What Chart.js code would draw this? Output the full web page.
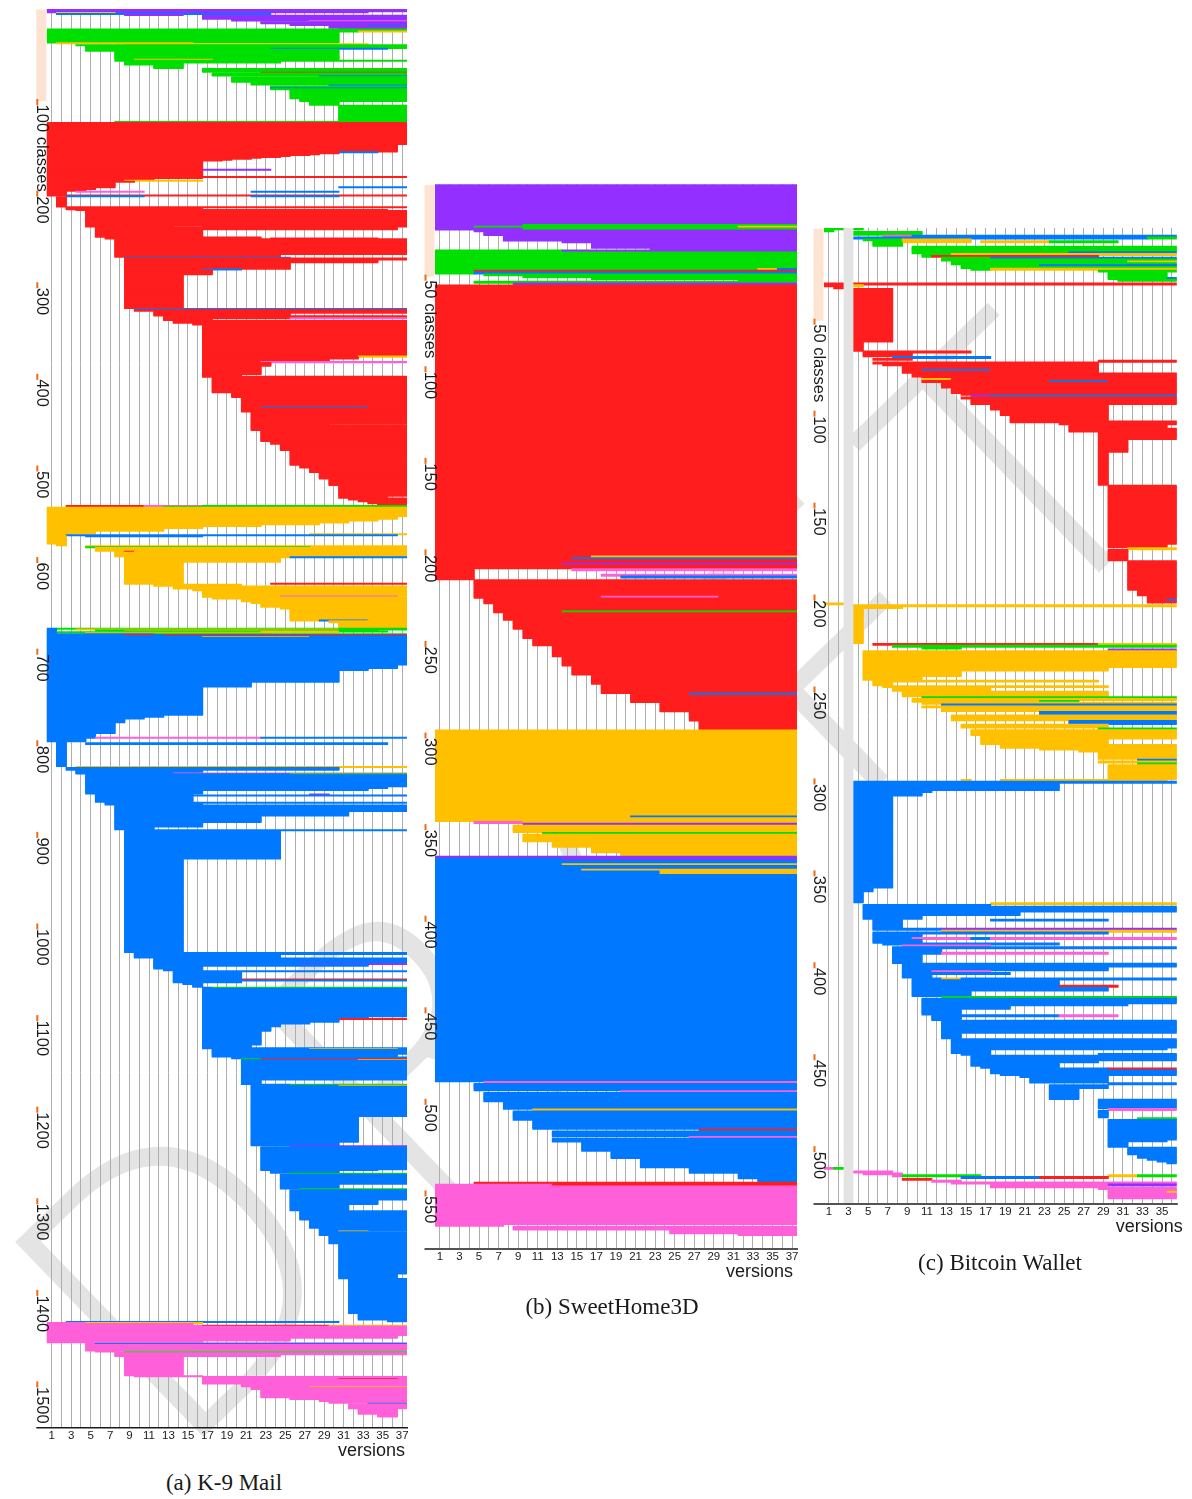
<!DOCTYPE html>
<html>
<head>
<meta charset="utf-8">
<title>Class evolution across versions</title>
<script src="https://cdn.jsdelivr.net/npm/chart.js@4.4.1/dist/chart.umd.min.js"></script>
<style>
  html, body { margin: 0; padding: 0; background: #fff; }
  #page { position: relative; width: 1192px; height: 1499px; overflow: hidden; background: #fff; }
  .wm { position: absolute; left: 600px; top: 850px; transform: translate(-50%, -50%) rotate(-44deg);
        font-family: "Open Sans", "DejaVu Sans", sans-serif; font-weight: 300; font-size: 380px; line-height: 1;
        letter-spacing: 70px; color: #e4e4e4; white-space: nowrap; }
  canvas { position: absolute; }
  .cap { position: absolute; transform: translateX(-50%); white-space: nowrap; line-height: 26px;
         font-family: "Liberation Serif", "Times New Roman", serif; font-size: 23px; color: #1a1a1a; }
</style>
</head>
<body>
<div id="page">
  <div class="wm">DRAFT</div>
  <canvas id="k9" width="404" height="1465" style="left:16px;top:0px"></canvas>
  <canvas id="home" width="400" height="1115" style="left:415px;top:170px"></canvas>
  <canvas id="wallet" width="387" height="1025" style="left:805px;top:215px"></canvas>
  <div class="cap" style="left:224px;top:1470px">(a) K-9 Mail</div>
  <div class="cap" style="left:612px;top:1294px">(b) SweetHome3D</div>
  <div class="cap" style="left:1000px;top:1250px">(c) Bitcoin Wallet</div>
</div>
<script>
// Package colours (one colour per top-level package).
const pkgColors = { P: '#9330ff', G: '#00e000', R: '#ff1d1d', O: '#ffc000', B: '#0078ff', K: '#ff60da' };

// Each run: [number of classes, first version, last version, package, (more segments for classes that moved)...]
// Classes are listed top to bottom in the order they are stacked.
const k9Runs = [
  [3,1,37,'P'],[1,1,33,'P'],[1,2,7,'O'],[1,2,23,'B'],[1,9,14,'P'],[4,17,37,'P'],[2,20,37,'P'],[1,28,37,'K'],
  [2,23,37,'P'],[2,26,37,'P'],[1,34,37,'B'],[2,30,37,'P'],[1,31,37,'P'],
  [2,1,37,'G'],[1,1,32,'G',33,37,'O'],[12,1,30,'G'],[1,2,15,'O'],[1,9,33,'O'],[1,4,37,'G'],[3,5,37,'G'],
  [1,5,23,'G',24,35,'B'],[2,5,30,'G'],[9,8,30,'G'],[1,10,17,'O'],[1,8,37,'G'],[2,9,24,'G'],[2,9,14,'G'],[4,12,14,'G'],
  [4,17,37,'G'],[1,23,37,'R'],[3,18,37,'G'],[1,29,37,'B'],[6,20,37,'G'],[3,22,37,'G'],[1,30,37,'B'],[2,24,37,'G'],
  [1,24,37,'B'],[1,24,37,'G'],[10,26,37,'G'],[3,27,37,'G'],[4,28,30,'G'],[18,31,37,'G'],[1,8,30,'G'],
  [24,1,37,'R'],[8,1,36,'R'],[1,1,30,'R',31,34,'B'],[1,1,30,'R'],[1,1,28,'R'],[1,1,27,'R'],[1,1,25,'R'],[1,1,24,'R'],
  [1,1,22,'R'],[1,1,21,'R'],[1,1,19,'R'],[1,1,18,'R'],[1,1,16,'R'],[8,1,16,'R'],[1,1,16,'R',17,23,'P'],[7,1,16,'R'],
  [1,1,37,'R'],[1,1,16,'R'],[2,1,11,'R'],[1,1,8,'R',9,16,'O'],[1,1,9,'R'],[5,1,7,'R'],[1,1,7,'R',31,37,'B'],
  [2,1,5,'R'],[2,1,4,'R'],[1,1,2,'R',4,10,'K',22,30,'B'],[3,1,2,'R'],
  [1,1,37,'R'],[1,3,10,'B',22,30,'B'],[11,2,2,'R'],[1,3,37,'R'],[2,3,16,'R'],[1,4,35,'R'],[15,5,37,'R'],[2,5,37,'R'],
  [1,5,13,'R',17,37,'R'],[3,6,36,'R'],[8,6,16,'R'],[1,7,22,'R'],[1,7,22,'R',24,34,'R'],[1,8,37,'R'],[16,8,37,'R'],
  [3,8,24,'R'],[1,9,25,'B'],
  [2,9,37,'R'],[3,9,34,'R'],[7,9,25,'R'],[1,9,16,'R',17,20,'B'],[5,9,17,'R'],[37,9,14,'R'],
  [1,10,37,'B'],[2,10,37,'R'],[2,12,37,'R'],[3,12,25,'R'],[2,13,37,'R'],[1,13,25,'R',26,37,'K'],[2,13,17,'R'],
  [3,14,37,'R'],[2,16,37,'R'],
  [34,17,37,'R'],[1,17,32,'R',33,37,'O'],[2,17,32,'R'],[3,17,29,'R'],[1,17,22,'R',23,37,'K'],[4,17,23,'R'],
  [9,17,22,'R'],[2,17,20,'R'],
  [1,17,37,'R'],[9,18,37,'R'],[1,18,25,'R'],[7,18,37,'R'],[5,20,37,'R'],
  [10,21,37,'R'],[1,21,22,'R',23,33,'B',34,37,'R'],[5,21,37,'R'],[13,22,37,'R'],[1,22,29,'R'],[6,22,37,'R'],
  [11,23,37,'R'],[1,23,27,'R'],[3,24,37,'R'],[7,25,37,'R'],[14,26,37,'R'],[1,26,29,'R'],[1,26,37,'R'],
  [3,27,37,'R'],[5,28,37,'R'],[7,29,37,'R'],[7,30,37,'R'],[12,31,37,'R'],[2,31,35,'R'],[2,32,37,'R'],
  [2,33,37,'R'],[2,34,37,'R'],[2,35,37,'R'],
  [1,3,10,'R',11,16,'K',17,37,'G'],[1,13,37,'G'],
  [10,1,37,'O'],[3,1,36,'O'],[2,1,34,'O'],[2,1,31,'O'],[2,1,28,'O'],[2,1,22,'O'],[2,1,16,'O'],[3,1,12,'O'],
  [3,1,5,'O'],[1,1,2,'O',28,37,'O'],[1,1,2,'O',3,36,'B'],[1,1,2,'O',5,16,'B'],[8,1,2,'O'],
  [2,2,2,'O'],[1,5,37,'O'],[1,5,27,'G'],[1,6,37,'O'],[3,6,37,'O'],[1,8,8,'O',9,9,'R',10,37,'O'],[4,8,37,'O'],
  [1,8,37,'O'],[1,9,25,'O',26,37,'B'],[5,9,24,'O'],[23,9,14,'O'],[1,9,14,'O',24,37,'R'],
  [2,12,20,'O'],[3,14,37,'O'],[2,16,37,'O'],[6,17,37,'O'],[1,17,24,'O',25,36,'K'],[2,18,37,'O'],[3,21,37,'O'],
  [2,22,37,'O'],[4,23,37,'O'],[2,25,37,'O'],[12,26,37,'O'],[1,26,28,'O',29,33,'B',34,37,'O'],[2,30,37,'O'],
  [3,31,37,'O'],[3,31,37,'O'],
  [1,1,1,'B',2,37,'G'],[1,1,1,'B',4,30,'O',31,37,'G'],[1,1,1,'B',6,34,'G'],[1,1,1,'B',9,30,'O',31,35,'G'],
  [1,1,1,'B',2,22,'G',23,30,'O'],[1,1,1,'B',5,23,'O'],[1,1,11,'B',12,37,'G'],[1,1,8,'B',9,11,'R',12,37,'B'],
  [1,1,12,'B',13,37,'R'],[1,1,16,'B',17,27,'O',28,37,'B'],[1,1,37,'B'],
  [29,1,37,'B'],[4,1,36,'B'],[2,1,33,'B'],[13,1,30,'B'],[5,1,21,'B'],[31,1,16,'B'],[2,1,12,'B'],[2,1,10,'B'],
  [4,1,8,'B'],[12,1,7,'B'],[4,1,5,'B'],[1,1,5,'B',6,22,'K',23,37,'B'],[4,1,4,'B'],
  [1,2,2,'B'],[2,2,2,'B',5,35,'B'],[24,2,2,'B'],
  [1,4,37,'O'],[3,3,30,'B'],[3,4,16,'B'],[1,4,13,'B',14,37,'K'],
  [1,5,25,'B',26,37,'G'],[13,5,37,'B'],[2,5,35,'B'],[2,5,33,'B'],[4,5,16,'B'],
  [1,6,15,'B',28,29,'P'],[1,6,37,'B'],[7,6,15,'B'],[1,7,37,'B'],[2,7,16,'B'],
  [7,8,37,'B'],[5,8,31,'B'],[7,8,22,'B'],[5,8,16,'B'],[3,8,11,'B'],
  [1,10,37,'B'],[31,9,24,'B'],[102,9,14,'B'],
  [2,10,37,'B'],[4,10,24,'B'],[6,12,37,'B'],[1,12,26,'B',27,37,'P'],[2,12,33,'B'],[3,12,16,'B'],[2,13,16,'B'],
  [1,14,37,'B'],[8,14,20,'B'],[1,14,20,'B',21,37,'R'],[1,14,37,'B'],[2,14,20,'B'],[2,15,16,'B'],[3,16,16,'B'],
  [1,17,17,'B',18,37,'G'],
  [31,17,37,'B'],[2,17,33,'B'],[1,17,30,'B',31,37,'R'],[3,17,30,'B'],[2,17,27,'B'],[3,17,24,'B'],[5,17,23,'B'],
  [15,17,22,'B'],[3,17,21,'B'],[1,17,37,'B'],[1,18,27,'B',28,36,'O'],
  [5,18,37,'B'],[3,18,36,'B'],[2,20,37,'B'],[1,21,22,'G',23,37,'R'],[1,21,32,'B',33,37,'O'],[21,21,37,'B'],[5,21,22,'B'],
  [1,22,25,'B',26,37,'G'],[1,22,30,'B',31,37,'O'],[33,22,37,'B'],[28,22,32,'B'],[4,22,30,'B'],
  [1,26,37,'P'],[25,23,37,'B'],[1,23,34,'B'],[3,24,30,'B'],
  [1,26,37,'G'],[11,25,37,'B'],[5,25,30,'B'],[1,27,37,'G'],
  [11,26,37,'B'],[5,26,34,'B'],[7,26,31,'B'],
  [10,27,37,'B'],[9,28,37,'B'],[3,29,37,'B'],[1,29,30,'B',31,33,'O'],[4,29,37,'B'],[9,30,37,'B'],
  [33,31,37,'B'],[5,31,36,'B'],[38,32,37,'B'],[7,33,37,'B'],[2,36,37,'B'],
  [1,3,30,'B'],[1,1,4,'K',5,16,'O'],[2,1,15,'K'],[1,1,16,'K',17,29,'R',30,37,'O'],[10,1,37,'K'],[3,1,36,'K'],
  [3,1,25,'K'],[2,1,16,'K'],
  [1,5,37,'K'],[1,5,5,'K',6,37,'B'],[7,5,37,'K'],[1,6,7,'K'],[1,8,8,'K',9,37,'G'],[2,8,37,'K'],[1,8,18,'K'],[1,8,24,'K'],
  [21,9,14,'K'],[1,10,16,'K'],
  [2,17,37,'K'],[1,17,30,'K',31,36,'R'],[5,17,37,'K'],[3,21,37,'K'],[1,22,27,'K',28,37,'O'],[2,22,37,'K'],
  [9,23,37,'K'],[2,26,37,'K'],[2,29,37,'K'],[2,30,37,'K'],[1,34,37,'B'],[5,32,37,'K'],[6,33,36,'K'],[3,35,36,'K']
];

const homeRuns = [
  [22,1,37,'P'],[1,1,9,'P',10,37,'G'],[1,1,4,'P',5,31,'G',32,37,'O'],[1,1,9,'P',10,37,'G'],
  [1,5,37,'P'],[2,6,37,'P'],[3,8,37,'P'],[1,14,37,'P'],[3,17,37,'P'],[1,23,37,'P'],
  [1,1,13,'G',14,37,'P'],[9,1,37,'G'],[1,1,33,'G',34,35,'O',36,37,'B'],[1,1,4,'G',5,37,'R'],[1,1,4,'G',5,37,'B'],
  [1,6,37,'G'],[1,10,37,'G'],[1,17,37,'G'],[1,32,37,'G'],[1,5,37,'G'],[1,9,37,'P'],
  [148,1,37,'R'],
  [1,1,16,'R',17,37,'O'],[1,1,14,'R',15,37,'B'],[2,1,37,'R'],[1,1,13,'R',14,37,'P'],[2,1,37,'R'],
  [1,1,4,'R',15,37,'K'],[2,1,4,'R'],[1,1,4,'R',18,37,'K'],[1,1,4,'R',20,37,'B'],[1,1,4,'R'],
  [9,5,37,'R'],[1,5,17,'R',18,29,'K',30,37,'R'],[3,6,37,'R'],[4,7,37,'R'],[1,7,13,'R',14,37,'G'],[4,8,37,'R'],
  [5,9,37,'R'],[5,10,37,'R'],[4,11,37,'R'],[6,13,37,'R'],[5,14,37,'R'],[5,15,37,'R'],[5,17,37,'R'],[5,18,37,'R'],
  [1,21,26,'R',27,37,'B'],[4,21,37,'R'],[5,24,37,'R'],[5,27,37,'R'],[5,28,37,'R'],
  [47,1,37,'O'],[1,1,20,'O',21,37,'B'],[2,1,37,'O'],[1,5,9,'K',10,37,'O'],[1,10,37,'P'],[4,9,37,'O'],[1,12,37,'G'],
  [4,10,37,'O'],[3,13,37,'O'],[3,17,37,'O'],[2,20,37,'O'],
  [1,1,37,'P'],[1,1,13,'B',14,37,'P'],[2,1,37,'B'],[1,1,13,'B',14,37,'O'],[2,1,37,'B'],[1,1,15,'B',16,37,'O'],
  [2,1,23,'B',24,37,'O'],[113,1,37,'B'],
  [1,6,37,'K'],[4,5,37,'B'],[1,20,37,'K'],[5,6,37,'B'],[4,8,37,'B'],[1,11,37,'O'],[5,9,37,'B'],[5,11,37,'B'],
  [1,28,37,'R'],[3,13,37,'B'],[1,27,37,'K'],[2,13,37,'B'],[5,16,37,'B'],[4,19,37,'B'],[5,22,37,'B'],[3,27,37,'B'],
  [3,32,37,'B'],[2,34,37,'B'],
  [1,5,37,'R'],[1,1,12,'K',13,37,'R'],[21,1,37,'K'],[1,1,7,'K'],[2,9,37,'K'],[2,25,37,'K'],[1,32,37,'K']
];

const walletRuns = [
  [1,1,4,'G'],[1,1,1,'G'],[2,4,10,'G'],[1,7,9,'K',10,36,'B'],[1,4,33,'B',34,36,'G'],[1,5,8,'G',9,15,'O'],
  [1,6,8,'G',9,15,'O',17,23,'O',24,30,'G'],[2,6,8,'G'],
  [3,10,36,'G'],[1,10,25,'G',26,36,'B'],[1,11,13,'G',14,36,'O'],[1,11,11,'G',12,28,'R'],
  [1,13,17,'G',18,36,'B'],[1,13,36,'G'],[1,14,31,'G',32,36,'O'],[1,14,36,'G'],[1,15,22,'G',23,36,'B'],[1,15,36,'G'],
  [1,16,17,'G',18,36,'O'],
  [1,29,36,'G'],[3,30,35,'G'],[1,30,35,'G',36,36,'B'],[1,31,36,'G'],[1],
  [1,1,36,'R'],[1,1,2,'R',4,4,'O'],[1,2,2,'R'],[29,4,7,'R'],[5,4,4,'R'],
  [1,5,15,'R'],[2,5,9,'R'],[1,8,17,'B'],[1,6,9,'R'],[1,29,36,'R'],[1,6,28,'R'],[1,7,28,'R'],[2,9,28,'R'],
  [1,9,10,'R',11,17,'B',18,28,'R'],[1,9,28,'R'],
  [2,10,36,'R'],[1,11,36,'R'],[1,11,13,'O',14,36,'R'],[1,11,23,'R',24,29,'B',30,36,'R'],
  [3,13,36,'R'],[3,14,36,'R'],[1,15,36,'R'],[1,16,17,'P',18,36,'B'],[1,15,36,'R'],[3,16,36,'R'],
  [3,18,29,'R'],[3,19,29,'R'],[3,20,29,'R'],[1,20,36,'R'],[1,25,36,'R'],[2,26,35,'R'],[2,26,36,'R'],
  [4,29,36,'R'],[7,29,31,'R'],[18,29,29,'R'],[32,30,36,'R'],[2,30,35,'R'],[1,32,36,'O'],[6,30,31,'R'],
  [16,32,36,'R'],[3,33,36,'R'],[2,34,36,'R'],[1,34,35,'R',36,36,'B'],[1,34,36,'R'],
  [1,1,2,'O'],[1,4,36,'O'],[1,4,8,'O'],[19,4,4,'O'],
  [1,6,28,'R',29,36,'O'],[1,8,36,'G'],[1,11,14,'G'],[1,30,36,'P'],
  [9,5,36,'O'],[2,5,29,'O'],[3,5,14,'O'],[2,5,10,'O'],[1,6,28,'O'],[2,6,7,'O'],[1,7,29,'O'],
  [2,8,17,'O'],[3,9,29,'O'],[1,11,36,'G'],
  [1,10,36,'O'],[1,10,22,'O',23,26,'G'],[1,11,36,'O'],[1,13,36,'B'],[1,11,36,'O'],
  [2,13,36,'O'],[2,23,36,'B'],[3,14,36,'O'],[2,26,36,'B'],[2,15,29,'O'],[1,29,36,'G'],
  [3,16,36,'O'],[2,17,36,'O'],[3,17,29,'O'],[2,19,36,'O'],[1,23,36,'O'],[1,27,36,'O'],[4,29,36,'O'],
  [1,33,36,'B'],[1,29,36,'O'],[1,33,36,'G'],[8,30,36,'O'],
  [1,15,15,'O',19,35,'O'],[1,4,36,'B'],
  [4,4,24,'B'],[1,4,11,'B'],[2,4,10,'B'],[50,4,7,'B'],[2,4,5,'B'],[6,4,4,'B'],
  [1,18,36,'O'],[1,5,17,'B'],[3,5,36,'B'],[2,5,20,'B'],[2,5,10,'B'],[1,6,8,'B',18,29,'B'],[4,6,8,'B'],
  [1,6,12,'B',13,36,'P'],[1,13,36,'O'],[1,6,29,'B'],[2,6,10,'B'],[1,6,9,'B',10,15,'K',16,17,'B',18,36,'K'],
  [2,6,10,'B'],[1,7,24,'B'],[1,9,17,'K'],
  [1,8,36,'B'],[2,8,12,'B'],[1,8,12,'B',13,29,'K'],[5,8,10,'B'],
  [2,9,36,'B'],[2,9,29,'B'],[1,9,11,'B',12,17,'K'],[1,9,19,'B'],[2,9,11,'B'],
  [1,10,12,'B',13,14,'O',15,36,'B'],[3,10,24,'B'],[1,10,24,'B',25,30,'R'],[2,10,29,'B'],[3,10,15,'B'],
  [1,13,36,'G'],[3,11,36,'B'],[1,11,31,'B'],[2,11,19,'B'],[3,11,14,'B'],[1,12,24,'B',25,30,'K'],[2,12,14,'B'],
  [7,13,36,'B'],[3,13,14,'B'],
  [5,14,36,'B'],[1,14,35,'B'],[2,14,17,'B'],[1,15,17,'B',29,36,'B'],
  [3,16,36,'B'],[1,16,28,'B'],[2,16,24,'B'],[1,17,24,'B'],
  [1,18,29,'B',30,36,'R'],[2,18,36,'B'],[1,19,36,'B'],[1,21,29,'B'],[3,22,29,'B'],
  [1,30,36,'B'],[2,24,29,'B'],[6,24,26,'B'],
  [5,29,36,'B'],[1,30,36,'K'],[4,29,29,'B'],
  [1,33,36,'G'],[11,30,36,'B'],[1,30,35,'B'],[3,30,31,'B'],
  [4,32,36,'B'],[2,33,36,'B'],[1,34,36,'B'],[1,35,36,'B'],[1,36,36,'B'],[2],
  [1,1,1,'K',2,2,'G'],[1],[1,4,7,'K'],[1,5,8,'K'],
  [1,8,8,'K',9,16,'G',30,32,'O',33,36,'G'],[1,15,22,'B',23,29,'R'],[1,9,11,'R'],[1,12,14,'K'],[1,14,36,'K'],
  [1,18,29,'K',30,36,'P'],[1,18,29,'K'],[1,29,36,'K'],[1,30,36,'K'],[1,30,35,'K',36,36,'O'],[3,30,36,'K']
];

// Axis annotations
const k9TickRows = [100,200,300,400,500,600,700,800,900,1000,1100,1200,1300,1400,1500];
const k9TickLabels = ['100 classes','200','300','400','500','600','700','800','900','1000','1100','1200','1300','1400','1500'];
const homeTickRows = [50,100,150,200,250,300,350,400,450,500,550];
const homeTickLabels = ['50 classes','100','150','200','250','300','350','400','450','500','550'];
const walletTickRows = [50,100,150,200,250,300,350,400,450,500];
const walletTickLabels = ['50 classes','100','150','200','250','300','350','400','450','500'];
const k9VersionLabels = [1,3,5,7,9,11,13,15,17,19,21,23,25,27,29,31,33,35,37];
const homeVersionLabels = [1,3,5,7,9,11,13,15,17,19,21,23,25,27,29,31,33,35,37];
const walletVersionLabels = [1,3,5,7,9,11,13,15,17,19,21,23,25,27,29,31,33,35];
const walletMissingVersions = [3];

// Expand the runs into one floating bar per class segment.
function toBars(runs) {
  const bars = [];
  let row = 0;
  for (const run of runs) {
    for (let r = 0; r < run[0]; r++) {
      for (let k = 1; k + 2 < run.length; k += 3) {
        bars.push({ y: row, x: [run[k] - 0.5, run[k + 1] + 0.5], pkg: run[k + 2] });
      }
      row++;
    }
  }
  return bars;
}

const panelDecor = {
  id: 'panelDecor',
  afterDatasetsDraw(chart, args, o) {
    const { ctx, chartArea: a, scales: { x } } = chart;
    ctx.save();
    ctx.fillStyle = '#e3e3e3';
    (o.missing || []).forEach(v => {
      const x0 = x.getPixelForValue(v - 0.5), x1 = x.getPixelForValue(v + 0.5);
      ctx.fillRect(x0, a.top, x1 - x0, a.bottom - a.top);
    });
    ctx.restore();
  },
  afterDraw(chart, args, o) {
    const { ctx, chartArea: a, scales: { y } } = chart;
    ctx.save();
    // scale bar showing the size of the first tick interval
    const b0 = y.getPixelForValue(0), b1 = y.getPixelForValue(o.tickRows[0]);
    ctx.fillStyle = '#fde3d2';
    ctx.fillRect(a.left - 10.5, b0, 10, b1 - b0);
    // row ticks with rotated labels
    ctx.font = '16.5px "Liberation Sans", Arial, sans-serif';
    o.tickRows.forEach((r, i) => {
      const py = y.getPixelForValue(r);
      ctx.fillStyle = '#f26a10';
      ctx.fillRect(a.left - 10.5, py - 2, 2, 6);
      ctx.save();
      ctx.translate(a.left - 5.5, py + 3.5);
      ctx.rotate(Math.PI / 2);
      ctx.fillStyle = '#1a1a1a';
      ctx.textAlign = 'left';
      ctx.textBaseline = 'middle';
      ctx.fillText(o.tickLabels[i], 0, 0);
      ctx.restore();
    });
    // baseline of the version axis
    ctx.strokeStyle = '#1a1a1a';
    ctx.lineWidth = 1.5;
    ctx.beginPath();
    ctx.moveTo(a.left - 10.5, a.bottom + 0.75);
    ctx.lineTo(a.right + 1, a.bottom + 0.75);
    ctx.stroke();
    // axis title
    ctx.fillStyle = '#1a1a1a';
    ctx.font = '18px "Liberation Sans", Arial, sans-serif';
    ctx.textAlign = 'right';
    ctx.textBaseline = 'alphabetic';
    ctx.fillText('versions', a.right + o.titleShift, a.bottom + 28.5);
    ctx.restore();
  }
};

function drawPanel(id, runs, cfg) {
  const versionTicks = [];
  for (let v = 1; v <= cfg.versions; v++) versionTicks.push(v);
  return new Chart(document.getElementById(id), {
    type: 'bar',
    data: {
      datasets: [{
        data: toBars(runs),
        backgroundColor: c => pkgColors[c.raw ? c.raw.pkg : 'B'],
        borderWidth: 0,
        barPercentage: 1,
        categoryPercentage: 1,
        inflateAmount: 0.55
      }]
    },
    options: {
      indexAxis: 'y',
      responsive: false,
      animation: false,
      devicePixelRatio: 1,
      events: [],
      layout: { padding: cfg.padding },
      plugins: {
        legend: { display: false },
        tooltip: { enabled: false },
        panelDecor: { tickRows: cfg.tickRows, tickLabels: cfg.tickLabels, missing: cfg.missing, titleShift: cfg.titleShift }
      },
      scales: {
        x: {
          type: 'linear',
          position: 'bottom',
          offset: false,
          min: 0.5,
          max: cfg.versions + 0.5,
          afterBuildTicks: s => { s.ticks = versionTicks.map(v => ({ value: v })); },
          afterFit: s => { s.height = cfg.axisHeight; },
          grid: { color: '#adadad', lineWidth: 1, drawTicks: false, offset: false },
          border: { display: false },
          ticks: {
            autoSkip: false, maxRotation: 0, minRotation: 0, padding: 2, color: '#1a1a1a',
            font: { family: '"Liberation Sans", Arial, sans-serif', size: 11.5 },
            callback: v => cfg.versionLabels.includes(v) ? String(v) : ''
          }
        },
        y: {
          type: 'linear',
          reverse: true,
          display: false,
          offset: false,
          grid: { offset: false },
          min: -0.5,
          max: cfg.rowSpan,
          afterBuildTicks: s => { s.ticks = cfg.tickRows.map(v => ({ value: v })); }
        }
      }
    },
    plugins: [panelDecor]
  });
}

drawPanel('k9', k9Runs, {
  versions: 37, rowSpan: 1547.5, versionLabels: k9VersionLabels,
  tickRows: k9TickRows, tickLabels: k9TickLabels,
  padding: { left: 30.8, right: 13, top: 9, bottom: 0 }, axisHeight: 38, titleShift: -2
});
drawPanel('home', homeRuns, {
  versions: 37, rowSpan: 580.5, versionLabels: homeVersionLabels,
  tickRows: homeTickRows, tickLabels: homeTickLabels,
  padding: { left: 20, right: 18, top: 14.2, bottom: 0 }, axisHeight: 36.7, titleShift: -4
});
drawPanel('wallet', walletRuns, {
  versions: 36, rowSpan: 530, versionLabels: walletVersionLabels,
  tickRows: walletTickRows, tickLabels: walletTickLabels, missing: walletMissingVersions,
  padding: { left: 19, right: 15.2, top: 12.9, bottom: 0 }, axisHeight: 36.7, titleShift: 6
});
</script>
</body>
</html>
